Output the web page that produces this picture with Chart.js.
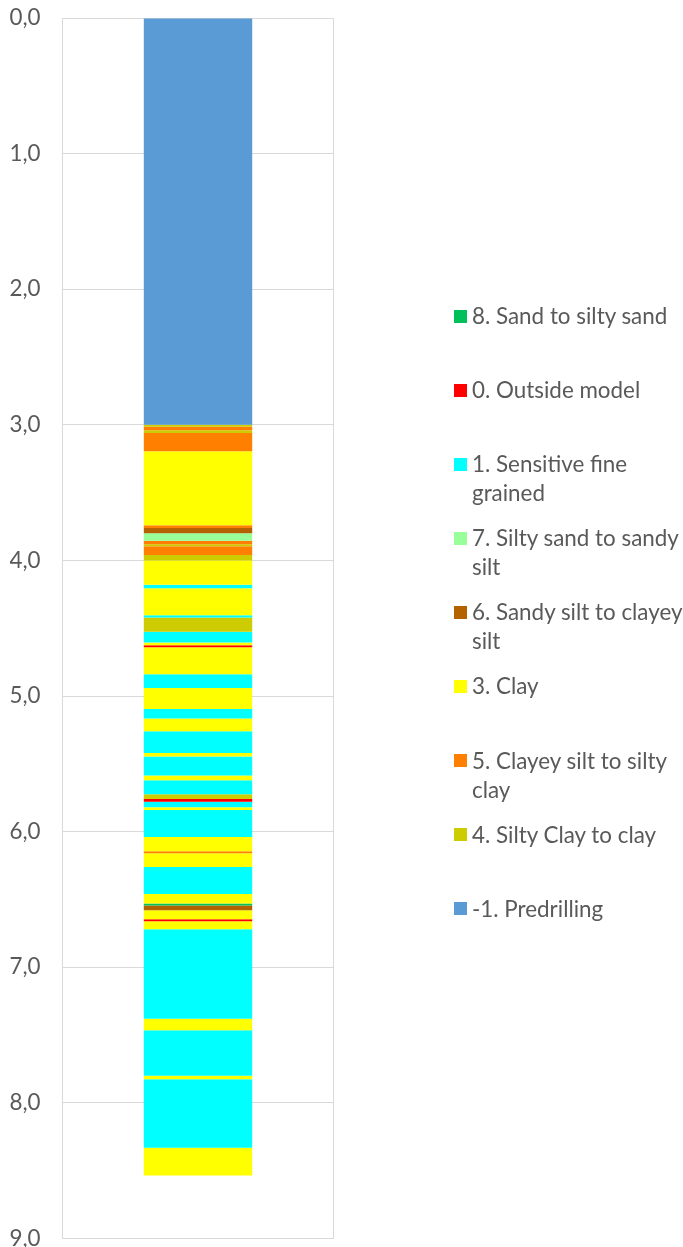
<!DOCTYPE html>
<html><head><meta charset="utf-8">
<script src="https://cdn.jsdelivr.net/npm/chart.js@4/dist/chart.umd.min.js"></script>
<style>
html,body{margin:0;padding:0;background:#fff;width:683px;height:1247px;overflow:hidden;}
#wrap{position:absolute;left:0;top:0;width:683px;height:1247px;}
#legend{position:absolute;left:454px;top:301px;width:229px;font-family:Lato,"Open Sans",sans-serif;font-size:22.4px;color:#595959;}
.item{position:relative;height:74.1px;line-height:29px;padding-left:18px;width:211px;}
.box{position:absolute;left:0;top:8.5px;width:13px;height:13px;}
</style></head>
<body>
<div id="wrap"><canvas id="c"></canvas></div>
<div id="legend"></div>
<script>
// Soil types in legend order (as shown top to bottom)
const soilTypes = ['8','0','1','7','6','3','5','4','-1'];
const soilNames = [
  '8. Sand to silty sand',
  '0. Outside model',
  '1. Sensitive fine grained',
  '7. Silty sand to sandy silt',
  '6. Sandy silt to clayey silt',
  '3. Clay',
  '5. Clayey silt to silty clay',
  '4. Silty Clay to clay',
  '-1. Predrilling'
];
// Depth (m) of the bottom of each layer, top to bottom
const layerBottoms = [
  3.000, 3.015, 3.040, 3.060, 3.195, 3.740, 3.760, 3.800, 3.855, 3.880,
  3.895, 3.960, 4.000, 4.180, 4.205, 4.405, 4.420, 4.525, 4.605, 4.625,
  4.640, 4.840, 4.940, 5.095, 5.165, 5.260, 5.420, 5.445, 5.585, 5.620,
  5.725, 5.760, 5.780, 5.820, 5.840, 6.040, 6.145, 6.160, 6.260, 6.460,
  6.530, 6.545, 6.580, 6.645, 6.660, 6.720, 7.380, 7.465, 7.800, 7.825,
  8.330, 8.535
];
// Soil type of each layer, top to bottom
const layerTypes = [
  '-1','4','5','4','5','3','5','6','7','5',
  '4','5','4','3','1','3','1','4','1','3',
  '0','3','1','3','1','3','1','3','1','3',
  '1','4','0','1','3','1','3','5','3','1',
  '3','8','6','3','0','3','1','3','1','3',
  '1','3'
];
// Depth axis tick labels, for depths 0..9
const depthTicks = ['0,0','1,0','2,0','3,0','4,0','5,0','6,0','7,0','8,0','9,0'];

const typeColors = {
  '8':'#00C05A', '0':'#FF0000', '1':'#00FFFF', '7':'#99FF99', '6':'#B46200',
  '3':'#FFFF00', '5':'#FF8000', '4':'#CCCC00', '-1':'#5B9BD5'
};

const datasets = layerBottoms.map((bottom, i) => {
  const top = i === 0 ? 0 : layerBottoms[i - 1];
  const t = layerTypes[i];
  return {
    label: soilNames[soilTypes.indexOf(t)],
    data: [Math.round((bottom - top) * 1000) / 1000],
    backgroundColor: typeColors[t],
    borderWidth: 0,
    barPercentage: 0.4,
    categoryPercentage: 1
  };
});

new Chart(document.getElementById('c'), {
  type: 'bar',
  data: { labels: [''], datasets },
  options: {
    responsive: true,
    maintainAspectRatio: false,
    animation: false,
    layout: { padding: { left: 10, top: 18, right: 349.5, bottom: 8.5 } },
    plugins: { legend: { display: false }, tooltip: { enabled: false } },
    scales: {
      x: {
        stacked: true,
        ticks: { display: false },
        grid: { color: '#d9d9d9', drawTicks: false, offset: true, lineWidth: 1 },
        border: { color: '#d9d9d9' }
      },
      y: {
        stacked: true,
        reverse: true,
        min: 0, max: 9,
        ticks: {
          stepSize: 1, padding: 22, color: '#595959',
          font: { family: 'Lato', size: 22.4 },
          callback: (v) => depthTicks[Math.round(v)]
        },
        grid: { color: '#d9d9d9', drawTicks: false, lineWidth: 1 },
        border: { color: '#d9d9d9' },
        afterFit(s) { s.width = 52.5; s.paddingTop = 0; s.paddingBottom = 0; }
      }
    }
  }
});

const legend = document.getElementById('legend');
soilTypes.forEach((t, i) => {
  const item = document.createElement('div');
  item.className = 'item';
  const box = document.createElement('span');
  box.className = 'box';
  box.style.background = typeColors[t];
  item.appendChild(box);
  item.appendChild(document.createTextNode(soilNames[i]));
  legend.appendChild(item);
});
</script>
</body></html>
